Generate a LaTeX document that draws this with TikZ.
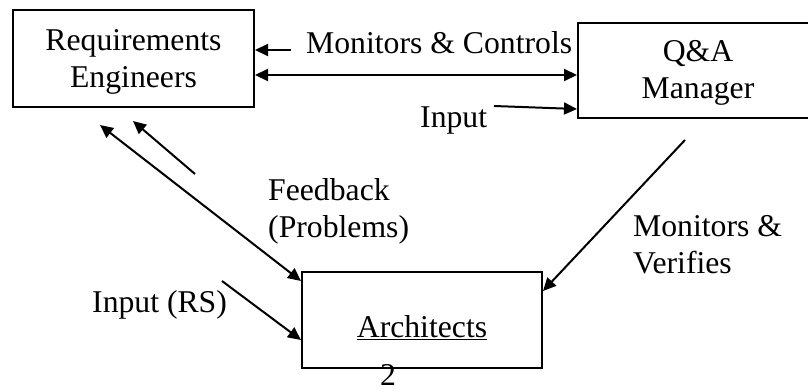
\documentclass[tikz,border=0pt]{standalone}
\usepackage{fontspec}
\setmainfont{Liberation Serif}
\usetikzlibrary{arrows.meta}
\begin{document}
\begin{tikzpicture}[x=1pt,y=-1pt,
  every node/.style={font=\fontsize{31.7}{36.5}\selectfont, inner sep=0pt},
  box/.style={draw, line width=2pt},
  lbl/.style={anchor=base west, align=left},
  ctr/.style={anchor=base, align=center},
  conn/.style={line width=2pt, -{Triangle[length=13pt,width=12pt]}},
  dconn/.style={line width=2pt, {Triangle[length=13pt,width=12pt]}-{Triangle[length=13pt,width=12pt]}}]
\useasboundingbox (0,0) rectangle (808,388);
% boxes
\node[box, minimum width=241pt, minimum height=97pt] (re) at (133.5,58.5) {};
\node[box, minimum width=240pt, minimum height=95pt] (qa) at (698,70) {};
\node[box, minimum width=240pt, minimum height=96pt] (ar) at (422,320) {};
\node[ctr] (retxt) at (133.5,87) {Requirements\\Engineers};
\node[ctr] (qatxt) at (698,98) {Q\&A\\Manager};
\node[ctr] (artxt) at (422,337) {\underline{Architects}};
% labels
\node[lbl] (lmc) at (306,53) {Monitors \& Controls};
\node[lbl] (lin) at (420,127) {Input};
\node[lbl] (lfb) at (268,237) {Feedback\\(Problems)};
\node[lbl] (lrs) at (92,312) {Input (RS)};
\node[lbl] (lmv) at (633,273) {Monitors \&\\Verifies};
\node[anchor=base, text depth=0pt] (pg) at (388,385) {2};
% free ends
\coordinate (a1) at (291,50);
\coordinate (a3) at (494,106);
\coordinate (a4) at (100,125);
\coordinate (a5) at (195,174);
\coordinate (a5t) at (133,121);
\coordinate (a6) at (222,281);
\coordinate (a7) at (685,140);
% connectors
\draw[conn] (a1) -- (re.east |- a1);
\draw[dconn] (re.east |- 0,75) -- (qa.west |- 0,75);
\draw[conn] (a3) -- (qa.west |- 0,109);
\draw[dconn] (a4) -- (ar.west |- 0,281);
\draw[conn] (a5) -- (a5t);
\draw[conn] (a6) -- (ar.west |- 0,340);
\draw[conn] (a7) -- (ar.east |- 0,291);
\end{tikzpicture}
\end{document}
